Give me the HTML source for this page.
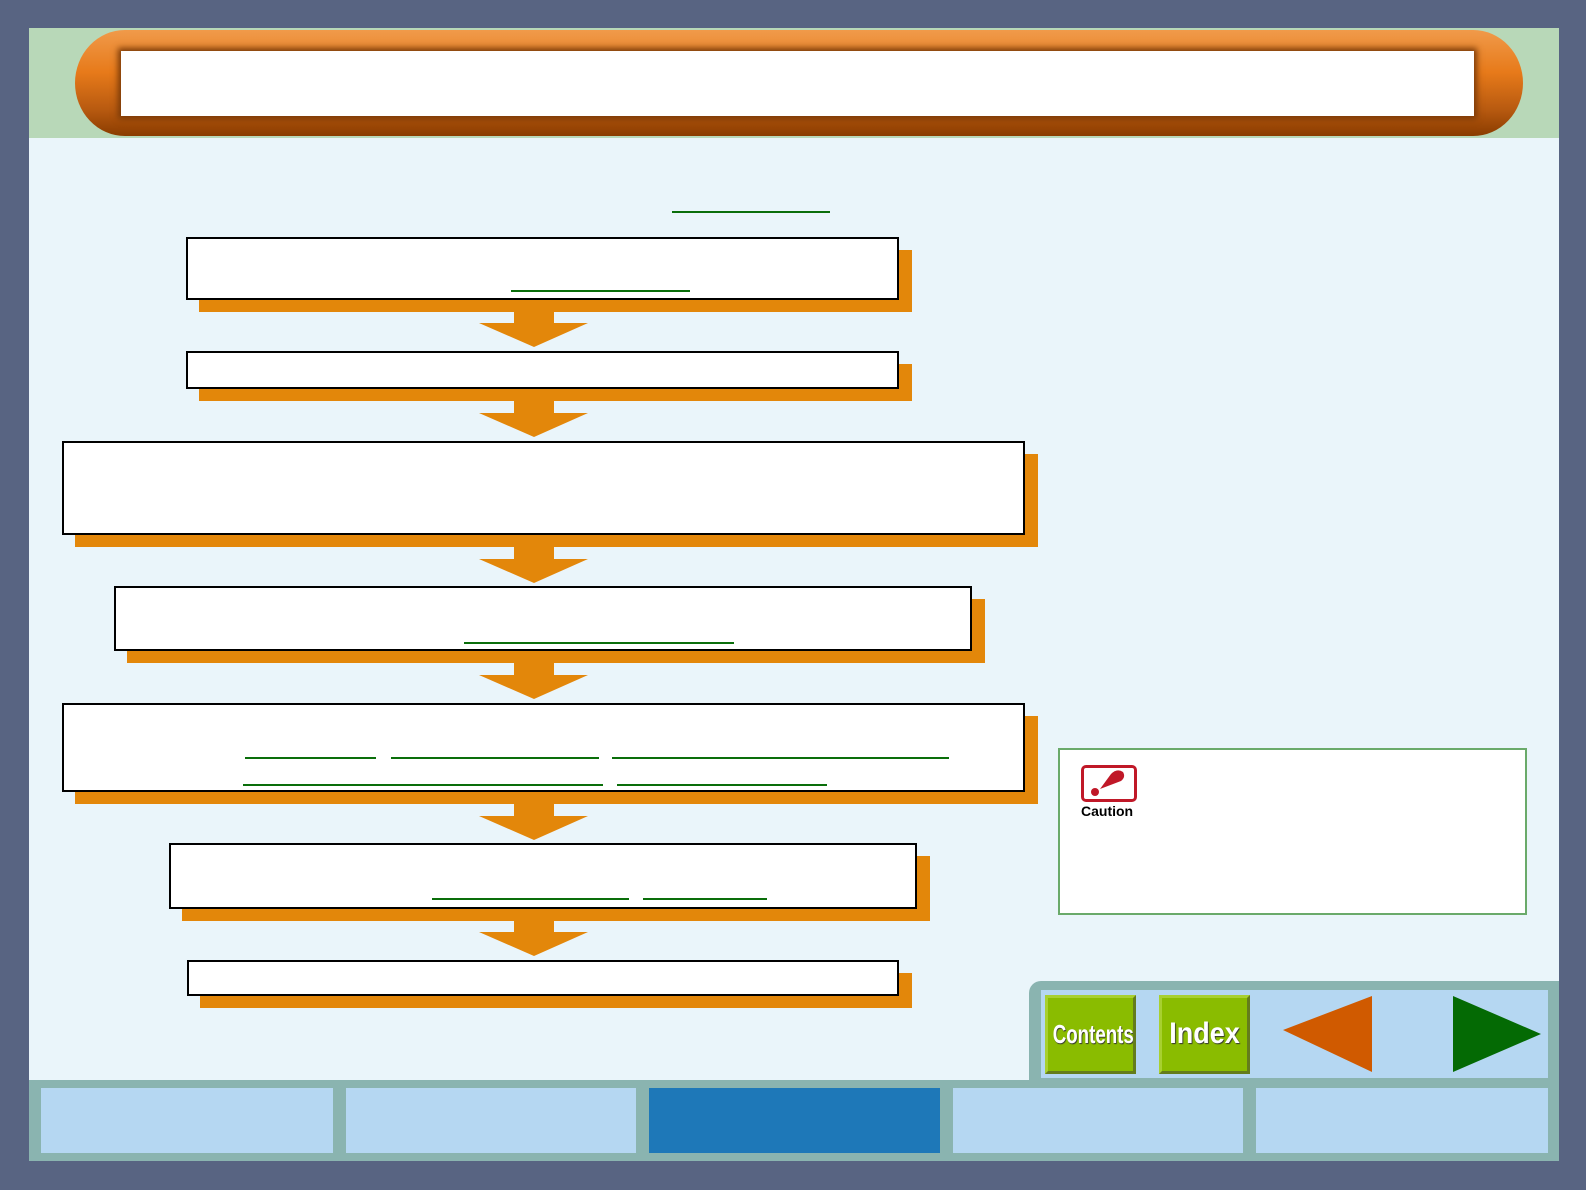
<!DOCTYPE html>
<html><head><meta charset="utf-8"><style>
*{margin:0;padding:0;box-sizing:border-box}
body{width:1586px;height:1190px;background:#586482;position:relative;overflow:hidden;font-family:"Liberation Sans",sans-serif}
div{position:absolute}
.b{background:#fff;border:2px solid #000}
.s{background:#e3870a}
.u{height:2px;background:#0a6e0a}
.tab{background:#b5d7f2;top:1088px;height:65px}
</style></head><body>
<div style="left:29px;top:28px;width:1530px;height:1133px;background:#eaf5fa"></div>
<div style="left:29px;top:28px;width:1530px;height:110px;background:#b8d8b8"></div>
<div style="left:75px;top:30px;width:1448px;height:106px;border-radius:50px/53px;background:linear-gradient(#f09a4a,#e77a1a 40%,#b85a10 75%,#8a3c00)"></div>
<div style="left:121px;top:51px;width:1353px;height:65px;background:#fff;box-shadow:0 0 6px 3px #7a3a08"></div>
<div class="u" style="left:672px;top:211px;width:158px"></div>

<div class="s" style="left:199px;top:250px;width:713px;height:62px"></div>
<div class="b" style="left:186px;top:237px;width:713px;height:63px"></div>
<div class="u" style="left:511px;top:290px;width:179px"></div>

<div class="s" style="left:199px;top:364px;width:713px;height:37px"></div>
<div class="b" style="left:186px;top:351px;width:713px;height:38px"></div>

<div class="s" style="left:75px;top:454px;width:963px;height:93px"></div>
<div class="b" style="left:62px;top:441px;width:963px;height:94px"></div>

<div class="s" style="left:127px;top:599px;width:858px;height:64px"></div>
<div class="b" style="left:114px;top:586px;width:858px;height:65px"></div>
<div class="u" style="left:464px;top:642px;width:270px"></div>

<div class="s" style="left:75px;top:716px;width:963px;height:88px"></div>
<div class="b" style="left:62px;top:703px;width:963px;height:89px"></div>
<div class="u" style="left:245px;top:757px;width:131px"></div>
<div class="u" style="left:391px;top:757px;width:208px"></div>
<div class="u" style="left:612px;top:757px;width:337px"></div>
<div class="u" style="left:243px;top:784px;width:360px"></div>
<div class="u" style="left:617px;top:784px;width:210px"></div>

<div class="s" style="left:182px;top:856px;width:748px;height:65px"></div>
<div class="b" style="left:169px;top:843px;width:748px;height:66px"></div>
<div class="u" style="left:432px;top:898px;width:197px"></div>
<div class="u" style="left:643px;top:898px;width:124px"></div>

<div class="s" style="left:200px;top:973px;width:712px;height:35px"></div>
<div class="b" style="left:187px;top:960px;width:712px;height:36px"></div>

<svg style="position:absolute;left:0;top:0" width="1586" height="1190">
<g fill="#e3870a">
<polygon points="514,311 554,311 554,323 588,323 534,347 479,323 514,323"/>
<polygon points="514,401 554,401 554,413 588,413 534,437 479,413 514,413"/>
<polygon points="514,547 554,547 554,559 588,559 534,583 479,559 514,559"/>
<polygon points="514,663 554,663 554,675 588,675 534,699 479,675 514,675"/>
<polygon points="514,804 554,804 554,816 588,816 534,840 479,816 514,816"/>
<polygon points="514,920 554,920 554,932 588,932 534,956 479,932 514,932"/>
</g>
</svg>

<div style="left:1058px;top:748px;width:469px;height:167px;background:#fff;border:2px solid #6aaa6a"></div>
<div style="left:1081px;top:765px;width:56px;height:37px;border:3px solid #c01828;border-radius:5px;background:#fff"></div>
<svg style="position:absolute;left:1081px;top:765px" width="56" height="37"><circle cx="14" cy="27" r="4" fill="#c01828"/><path d="M19 24 L30 9 Q36 3 42 7 Q45 12 40 16 Z" fill="#c01828"/></svg>
<div style="left:1081px;top:803px;font-size:14px;font-weight:bold;color:#000">Caution</div>

<div style="left:1029px;top:981px;width:530px;height:110px;background:#8ab4b0;border-radius:12px 0 0 0"></div>
<div style="left:29px;top:1080px;width:1530px;height:81px;background:#8ab4b0"></div>
<div style="left:1041px;top:990px;width:507px;height:88px;background:#b5d7f2"></div>
<div style="left:1045px;top:995px;width:91px;height:79px;background:#8abc00;border:3px outset #a8d030;overflow:hidden"><div style="left:-10px;width:105px;top:0;color:#fff;font-weight:bold;font-size:26px;text-align:center;line-height:72px;transform:scaleX(0.72);text-shadow:1px 1px 1px #333">Contents</div></div>
<div style="left:1159px;top:995px;width:91px;height:79px;background:#8abc00;border:3px outset #a8d030;overflow:hidden"><div style="left:-5px;width:95px;top:0;color:#fff;font-weight:bold;font-size:30px;text-align:center;line-height:72px;transform:scaleX(0.9);text-shadow:1px 1px 1px #333">Index</div></div>
<svg style="position:absolute;left:0;top:0" width="1586" height="1190">
<polygon points="1372,996 1372,1072 1283,1030" fill="#d05a00"/>
<polygon points="1453,996 1453,1072 1541,1034" fill="#046a04"/>
</svg>

<div class="tab" style="left:41px;width:292px"></div>
<div class="tab" style="left:346px;width:290px"></div>
<div class="tab" style="left:649px;width:291px;background:#1e78b8"></div>
<div class="tab" style="left:953px;width:290px"></div>
<div class="tab" style="left:1256px;width:292px"></div>
</body></html>
